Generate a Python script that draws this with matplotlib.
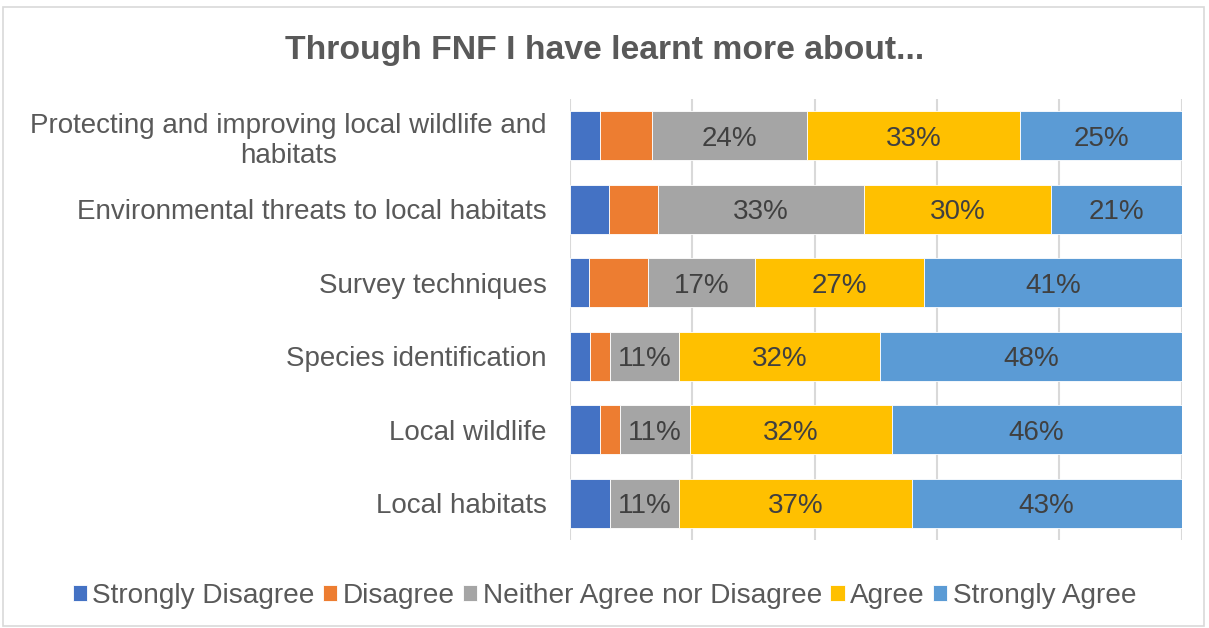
import numpy as np
import matplotlib.pyplot as plt
from matplotlib.patches import Rectangle

plt.rcParams['font.family'] = ['Liberation Sans', 'DejaVu Sans']

categories = [
    "Protecting and improving local wildlife and\nhabitats",
    "Environmental threats to local habitats",
    "Survey techniques",
    "Species identification",
    "Local wildlife",
    "Local habitats",
]
series_names = ["Strongly Disagree", "Disagree", "Neither Agree nor Disagree",
                "Agree", "Strongly Agree"]
strongly_disagree = [4.7, 6.3, 3.1, 3.2, 4.8, 6.4]
disagree = [8.0, 7.9, 9.4, 3.2, 3.2, 0.0]
neither = [24, 33, 17, 11, 11, 11]
agree = [33, 30, 27, 32, 32, 37]
strongly_agree = [25, 21, 41, 48, 46, 43]
colors = ["#4472C4", "#ED7D31", "#A5A5A5", "#FFC000", "#5B9BD5"]
labelled = [False, False, True, True, True]

data = np.array([strongly_disagree, disagree, neither, agree, strongly_agree], dtype=float)
totals = data.sum(axis=0)
shares = data / totals  # 100% stacked

W, H = 1209, 628
fig = plt.figure(figsize=(W / 100, H / 100), dpi=100)
fig.patches.append(Rectangle((3 / W, 2 / H), 1201 / W, 619 / H, transform=fig.transFigure,
                             fill=False, edgecolor="#D9D9D9", linewidth=1.2))

ax = fig.add_axes([570 / W, 88 / H, 611.7 / W, 441 / H])
y = np.arange(len(categories))
left = np.zeros(len(categories))
for i in range(len(series_names)):
    ax.barh(y, shares[i], left=left, height=0.667, color=colors[i],
            edgecolor="white", linewidth=0.6, label=series_names[i], zorder=3)
    if labelled[i]:
        for j in range(len(categories)):
            ax.text(left[j] + shares[i][j] / 2, y[j], f"{data[i][j]:.0f}%",
                    ha="center", va="center_baseline", fontsize=20, color="#404040", zorder=4)
    left += shares[i]

ax.set_xlim(0, 1)
ax.set_ylim(len(categories) - 0.5, -0.5)
ax.set_xticks(np.linspace(0, 1, 6))
ax.set_xticklabels([])
ax.tick_params(length=0)
ax.grid(axis="x", color="#D9D9D9", linewidth=1.5, zorder=0)
for s in ax.spines.values():
    s.set_visible(False)
ax.set_yticks(y)
ax.set_yticklabels(categories, fontsize=20, color="#595959", multialignment="center")
ax.tick_params(axis="y", pad=17)

fig.text(0.5, 1 - 50 / H, "Through FNF I have learnt more about...", ha="center", va="center",
         fontsize=24.3, fontweight="bold", color="#595959")

handles, labels = ax.get_legend_handles_labels()
fig.legend(handles, labels, loc="center", bbox_to_anchor=(0.5, 1 - 596 / H), ncol=5,
           frameon=False, fontsize=20.2, handlelength=0.5, handleheight=0.5,
           handletextpad=0.2, columnspacing=0.3, labelcolor="#595959")

fig.savefig("out.png", dpi=100)
